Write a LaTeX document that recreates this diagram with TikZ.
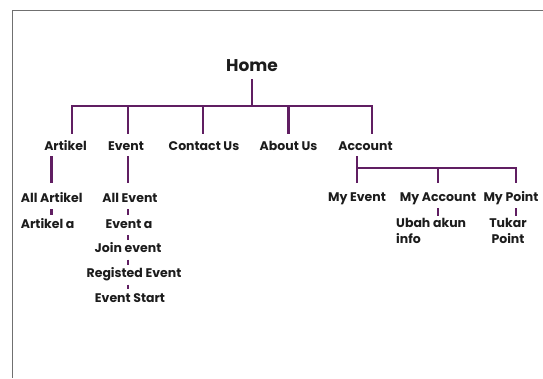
\documentclass[tikz,border=0pt]{standalone}
\usepackage{fontspec}
\setmainfont{Poppins}
\usepackage{tikz}
\usetikzlibrary{positioning}
\usetikzlibrary{calc}
\definecolor{treeline}{RGB}{96,30,98}
\definecolor{frameline}{RGB}{112,112,112}
\definecolor{labeltext}{RGB}{28,28,28}
\tikzset{tree/.style={draw=treeline,line width=2.5pt},
lbl/.style={font=\fontsize{12.5}{15.5}\selectfont\bfseries,text=labeltext,text height=9pt,text depth=3pt,inner sep=2pt,anchor=base},
sublbl/.style={font=\fontsize{12.5}{15.5}\selectfont\bfseries,text=labeltext,inner sep=2pt}}

\begin{document}
\begin{tikzpicture}[x=1pt,y=-1pt]
\useasboundingbox (0,0) rectangle (543,378);
\draw[frameline,line width=1.3pt] (543,10.4) -- (12.8,10.4) -- (12.8,378);

\node (home) at (252,71) [lbl,font=\fontsize{17}{20}\selectfont\bfseries,text height=12pt] {Home};
\foreach \n/\x/\t in {artikel/65.5/Artikel, event/126/Event, contact/204/Contact Us, about/288.5/About Us, account/365.5/Account}
\node (\n) at (\x,150) [lbl] {\t};
\coordinate (hbar) at (252,106);
\draw[tree,shorten <=3pt] (home.south) -- (hbar);
\foreach \n/\dx in {artikel/6.5, event/2, contact/-1, about/0, account/6.5}
\draw[tree,shorten >=5pt] (hbar) -| ([xshift=\dx pt]\n.north);

\node (allartikel) at (18.7,202) [lbl,anchor=base west] {All Artikel};
\node (artikela) at (18.7,228) [lbl,anchor=base west] {Artikel a};
\draw[tree,shorten <=1pt,shorten >=8pt] (artikel.south -| allartikel) -- (allartikel.north);
\draw[tree,shorten <=2pt,shorten >=1.5pt] (allartikel.south) -- (allartikel.south |- artikela.north);

\coordinate (ecol) at (128,0);
\node (allevent) at (130,202) [lbl] {All Event};
\node (eventa) at (129,228) [lbl] {Event a};
\node (joinevent) at (128,252.5) [lbl] {Join event};
\node (registed) at (134,277.5) [lbl] {Registed Event};
\node (eventstart) at (130,302) [lbl] {Event Start};
\draw[tree,shorten <=1pt,shorten >=8pt] (ecol |- event.south) -- (ecol |- allevent.north);
\foreach \a/\b in {allevent/eventa, eventa/joinevent, joinevent/registed, registed/eventstart}
\draw[tree,shorten <=2pt,shorten >=1.5pt] (ecol |- \a.south) -- (ecol |- \b.north);

\node (myevent) at (357,201) [lbl] {My Event};
\node (myaccount) at (438,201) [lbl] {My Account};
\node (mypoint) at (511,201) [lbl] {My Point};
\coordinate (abar) at (436.7,168);
\draw[tree,shorten <=1pt,shorten >=7pt] (account.south -| myevent) -- (myevent.north);
\draw[tree,shorten >=7pt] (abar -| myevent) -| ([xshift=5pt]mypoint.north);
\draw[tree,shorten >=7pt] (abar -| myaccount) -- (myaccount.north);

\node (ubah) at (394,216.5) [sublbl,anchor=north west,align=left] {Ubah akun\\info};
\node (tukar) at (508,216.5) [sublbl,anchor=north,align=center] {Tukar\\Point};
\draw[tree,shorten <=2pt,shorten >=0.5pt] (myaccount.south) -- (myaccount.south |- ubah.north);
\draw[tree,shorten <=2pt,shorten >=0.5pt] ([xshift=5pt]mypoint.south) -- ([xshift=5pt]mypoint.south |- tukar.north);
\end{tikzpicture}
\end{document}
